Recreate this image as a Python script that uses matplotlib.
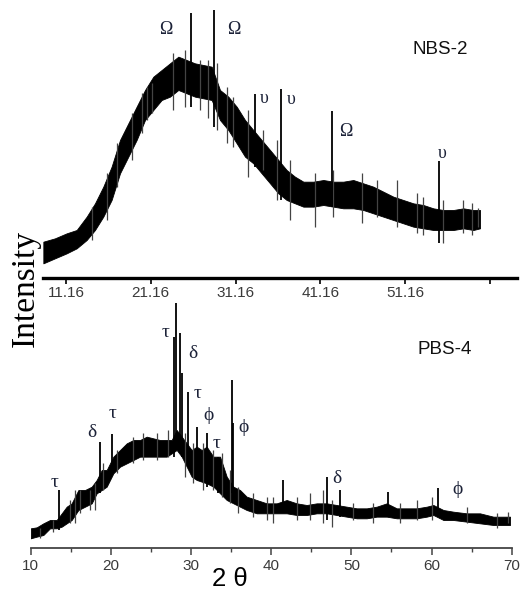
import matplotlib
matplotlib.use("Agg")
import matplotlib.pyplot as plt
from matplotlib.ticker import FixedLocator, MultipleLocator

# ---- NBS-2 (arbitrary intensity units) ----
# dense core of the noisy trace: 2theta, lower edge, upper edge
nbs_tt = [8.49, 9.86, 11.24, 12.42, 13.60, 14.58, 15.56, 16.54, 17.53, 18.51, 19.49,
          20.48, 21.46, 22.44, 23.42, 24.41, 25.39, 26.37, 27.36, 28.34, 29.32, 30.30,
          31.29, 32.27, 33.25, 34.23, 35.22, 36.20, 37.18, 38.16, 39.15, 40.33, 41.51,
          42.69, 43.86, 45.04, 46.22, 47.40, 48.58, 49.76, 50.94, 52.12, 53.30, 54.48,
          55.66, 56.84, 58.02, 59.20, 59.98]
nbs_lo = [44, 59, 74, 89, 114, 144, 184, 234, 314, 364, 414,
          474, 504, 534, 544, 564, 554, 544, 539, 534, 474, 444,
          404, 364, 344, 314, 284, 254, 234, 224, 214, 214, 219,
          214, 209, 209, 204, 194, 184, 174, 164, 154, 149, 144,
          144, 144, 149, 144, 149]
nbs_hi = [109, 119, 134, 144, 184, 224, 274, 334, 414, 464, 514,
          564, 604, 624, 644, 664, 654, 644, 639, 634, 564, 544,
          514, 474, 444, 414, 384, 354, 324, 304, 289, 289, 294,
          289, 289, 294, 284, 274, 259, 244, 234, 224, 219, 209,
          204, 204, 209, 204, 204]
# thin noise excursions
nbs_noise_tt = [14.19, 15.96, 17.13, 18.90, 20.08, 20.67, 21.26, 23.82, 25.19, 26.96,
                27.94, 28.93, 30.11, 30.89, 32.66, 34.43, 36.00, 37.57, 40.52, 42.69,
                46.03, 47.80, 50.15, 52.51, 53.30, 55.66, 58.02, 59.00, 59.78]
nbs_noise_lo = [114, 174, 274, 354, 434, 474, 494, 504, 514, 504,
                479, 444, 404, 394, 304, 324, 234, 174, 154, 184,
                164, 184, 154, 134, 129, 104, 134, 129, 154]
nbs_noise_hi = [214, 314, 404, 494, 554, 574, 584, 674, 684, 654,
                654, 644, 574, 544, 504, 444, 414, 354, 314, 324,
                314, 294, 294, 254, 244, 234, 234, 224, 209]
# sharp reflections
nbs_peak_tt = [25.90, 28.65, 33.45, 36.48, 42.50, 55.20]
nbs_peak_lo = [514, 454, 334, 234, 214, 104]
nbs_peak_hi = [794, 804, 551, 566, 501, 351]
nbs_lab = ["Ω", "Ω", "υ", "υ", "Ω", "υ"]
nbs_lab_tt = [22.91, 30.89, 34.55, 37.69, 44.14, 55.58]
nbs_lab_y = [744, 747, 539, 536, 439, 374]
nbs_ticks = [11.16, 21.16, 31.16, 41.16, 51.16, 61.16]
nbs_ticklabels = ["11.16", "21.16", "31.16", "41.16", "51.16", ""]

# ---- PBS-4 ----
pbs_tt = [10.00, 10.75, 11.58, 12.41, 13.24, 13.87, 14.49, 15.11, 15.95, 16.78, 17.61,
          18.23, 18.86, 19.48, 20.31, 21.14, 21.98, 22.81, 23.64, 24.47, 25.30, 26.13,
          26.96, 27.59, 28.21, 28.84, 29.46, 30.08, 30.71, 31.33, 31.95, 32.79, 33.62,
          34.45, 35.28, 36.11, 36.94, 38.19, 39.44, 40.69, 41.93, 43.18, 44.43, 45.68,
          46.92, 48.17, 49.42, 50.67, 51.91, 53.16, 54.41, 55.66, 56.90, 58.15, 59.40,
          60.23, 61.48, 62.72, 64.39, 66.05, 67.71, 69.79]
pbs_lo = [29, 34, 39, 59, 59, 64, 74, 84, 114, 124, 134,
          164, 174, 184, 224, 244, 254, 264, 274, 274, 274, 274,
          274, 284, 294, 274, 244, 214, 204, 199, 194, 184, 164,
          144, 134, 124, 114, 104, 104, 104, 104, 99, 99, 104,
          104, 99, 94, 89, 89, 94, 94, 89, 89, 89, 94,
          99, 84, 84, 79, 74, 69, 69]
pbs_hi = [59, 62, 74, 84, 84, 104, 124, 134, 174, 174, 184,
          204, 234, 234, 274, 294, 314, 324, 324, 334, 329, 324,
          324, 324, 354, 334, 314, 294, 304, 294, 304, 274, 274,
          214, 184, 174, 154, 144, 134, 134, 144, 134, 129, 134,
          134, 129, 124, 119, 119, 124, 134, 119, 119, 119, 124,
          129, 114, 109, 104, 104, 94, 94]
pbs_noise_tt = [11.16, 12.83, 14.91, 15.53, 16.15, 17.40, 18.02, 19.06, 20.73, 22.81,
                24.05, 25.72, 27.17, 29.25, 30.29, 31.54, 32.79, 33.83, 34.87, 35.90,
                37.78, 39.44, 40.27, 43.18, 44.84, 46.51, 47.55, 50.25, 52.74, 56.07,
                58.15, 60.02, 64.39, 68.13, 69.58]
pbs_noise_lo = [29, 49, 74, 74, 104, 114, 114, 174, 224, 254,
                264, 264, 274, 214, 194, 174, 174, 154, 134, 104,
                94, 84, 74, 84, 84, 74, 64, 84, 74, 74,
                84, 84, 74, 59, 74]
pbs_noise_hi = [59, 84, 144, 174, 174, 174, 194, 254, 294, 334,
                344, 344, 354, 344, 314, 314, 294, 284, 234, 184,
                164, 154, 154, 154, 164, 174, 144, 134, 134, 134,
                144, 154, 124, 104, 109]
pbs_peak_tt = [13.58, 18.65, 20.15, 27.88, 28.09, 28.67, 28.84, 29.67, 30.71, 32.04,
               33.41, 35.07, 35.28, 41.52, 47.00, 48.60, 54.60, 60.85]
pbs_peak_lo = [54, 164, 234, 274, 294, 294, 274, 254, 204, 184,
               164, 164, 134, 104, 84, 94, 94, 94]
pbs_peak_hi = [174, 319, 342, 634, 734, 644, 524, 469, 364, 344,
               274, 504, 374, 204, 214, 174, 169, 179]
pbs_lab = ["τ", "δ", "τ", "τ", "δ", "τ", "ϕ", "τ", "ϕ", "δ", "ϕ"]
pbs_lab_tt = [12.95, 17.69, 20.23, 26.88, 30.21, 30.83, 32.12, 33.20, 36.53, 48.25, 63.22]
pbs_lab_y = [196, 346, 402, 646, 584, 462, 396, 312, 362, 208, 174]

W, H = 530, 592
fig = plt.figure(figsize=(W / 100, H / 100), dpi=100)
sym_color = "#1c2238"
tick_color = "#3a3a3a"


def draw_trace(ax, tt, lo, hi, ntt, nlo, nhi, ptt, plo, phi):
    ax.fill_between(tt, lo, hi, color="black", lw=0.6)
    ax.vlines(ntt, nlo, nhi, color="#444444", lw=0.9)
    ax.vlines(ptt, plo, phi, color="black", lw=1.3)


# top panel
ax1 = fig.add_axes([43 / W, 1 - 278 / H, (517 - 43) / W, 278 / H])
draw_trace(ax1, nbs_tt, nbs_lo, nbs_hi, nbs_noise_tt, nbs_noise_lo, nbs_noise_hi,
           nbs_peak_tt, nbs_peak_lo, nbs_peak_hi)
for s, x, y in zip(nbs_lab, nbs_lab_tt, nbs_lab_y):
    ax1.text(x, y, s, ha="center", va="center", fontsize=13,
             family="Liberation Serif", color=sym_color)
ax1.text(440 / W, 1 - 49 / H, "NBS-2", transform=fig.transFigure, ha="center",
         va="center", fontsize=13.5, family="Liberation Sans", color="#111111")
ax1.set_xlim(8.45, 64.34)
ax1.set_ylim(0, 834)
for sp in ["top", "left", "right"]:
    ax1.spines[sp].set_visible(False)
ax1.spines["bottom"].set_linewidth(2.4)
ax1.set_yticks([])
ax1.xaxis.set_major_locator(FixedLocator(nbs_ticks))
ax1.set_xticklabels(nbs_ticklabels)
ax1.tick_params(axis="x", direction="out", length=4, width=1.2, pad=2,
                labelsize=11, labelcolor=tick_color)
for t in ax1.get_xticklabels():
    t.set_family("Liberation Sans")
ax1.patch.set_alpha(0)

# bottom panel
ax2 = fig.add_axes([30.7 / W, 1 - 548 / H, 481 / W, 258 / H])
draw_trace(ax2, pbs_tt, pbs_lo, pbs_hi, pbs_noise_tt, pbs_noise_lo, pbs_noise_hi,
           pbs_peak_tt, pbs_peak_lo, pbs_peak_hi)
for s, x, y in zip(pbs_lab, pbs_lab_tt, pbs_lab_y):
    ax2.text(x, y, s, ha="center", va="center", fontsize=14,
             family="Liberation Serif", color=sym_color)
ax2.text(445 / W, 1 - 349 / H, "PBS-4", transform=fig.transFigure, ha="center",
         va="center", fontsize=13.5, family="Liberation Sans", color="#111111")
ax2.set_xlim(10, 70)
ax2.set_ylim(0, 774)
for sp in ["top", "left", "right"]:
    ax2.spines[sp].set_visible(False)
ax2.spines["bottom"].set_linewidth(1.3)
ax2.spines["bottom"].set_color("#444444")
ax2.set_yticks([])
ax2.xaxis.set_major_locator(MultipleLocator(10))
ax2.xaxis.set_minor_locator(MultipleLocator(5))
ax2.tick_params(axis="x", which="major", direction="out", length=5, width=1.1,
                color="#444444", pad=3, labelsize=11, labelcolor=tick_color)
ax2.tick_params(axis="x", which="minor", direction="out", length=3, width=1.0,
                color="#444444")
for t in ax2.get_xticklabels():
    t.set_family("Liberation Sans")
ax2.patch.set_alpha(0)

fig.text(230 / W, 1 - 579 / H, "2 θ", ha="center", va="center", fontsize=18.5,
         family="Liberation Sans")
fig.text(25 / W, 1 - 288 / H, "Intensity", ha="center", va="center",
         rotation=90, fontsize=24, family="Liberation Serif")

fig.savefig("out.png", dpi=100)
